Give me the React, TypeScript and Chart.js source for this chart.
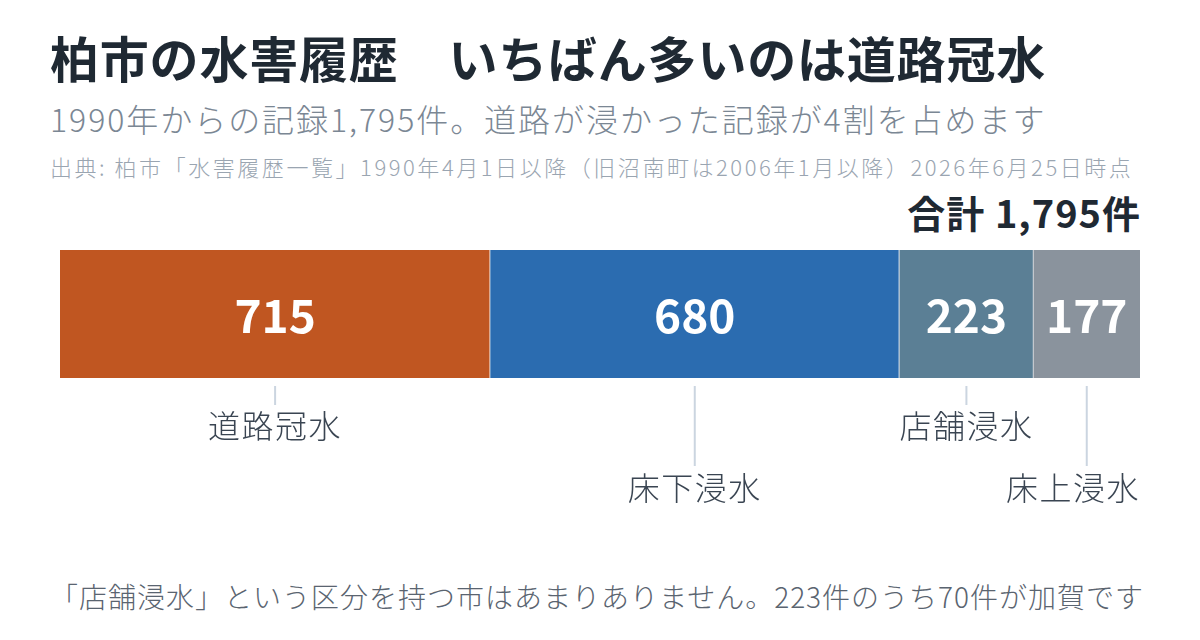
import { useEffect, useRef } from "react"
import { Chart, registerables } from "chart.js"

Chart.register(...registerables)

const categories = ["道路冠水", "床下浸水", "店舗浸水", "床上浸水"]
const counts = [715, 680, 223, 177]
const segmentColors = ["#C05621", "#2B6CB0", "#5B7F95", "#8A939D"]

const FONT = '"Noto Sans CJK JP", "Noto Sans", sans-serif'
const total = counts.reduce((a, b) => a + b, 0)

const labelPlugin = {
  id: "segmentLabels",
  afterDatasetsDraw(chart: any) {
    const ctx = chart.ctx
    const area = chart.chartArea
    chart.data.datasets.forEach((ds: any, i: number) => {
      const el = chart.getDatasetMeta(i).data[0]
      if (!el) return
      const { x, base, y, height } = el.getProps(["x", "base", "y", "height"], true)
      const cx = (x + base) / 2
      ctx.save()
      // value inside the segment
      ctx.fillStyle = "#ffffff"
      ctx.font = `bold 46px ${FONT}`
      ctx.textAlign = "center"
      ctx.textBaseline = "middle"
      ctx.fillText(String(ds.data[0]), cx, y + 2)

      // leader line and category name, alternating rows
      const bottom = y + height / 2
      const long = i % 2 === 1
      ctx.strokeStyle = "#CBD5E0"
      ctx.lineWidth = 2
      ctx.beginPath()
      ctx.moveTo(cx, bottom + 8)
      ctx.lineTo(cx, bottom + (long ? 88 : 27))
      ctx.stroke()

      ctx.font = `300 32px ${FONT}`
      ;(ctx as any).letterSpacing = "1.5px"
      ctx.fillStyle = "#3A4552"
      const w = ctx.measureText(ds.label).width
      const lx = Math.min(Math.max(cx, area.left + w / 2), area.right - w / 2)
      ctx.fillText(ds.label, lx, bottom + (long ? 110 : 48))
      ctx.restore()
    })
  },
}

function StackedBar() {
  const canvasRef = useRef<HTMLCanvasElement>(null)
  const chartRef = useRef<Chart | null>(null)

  useEffect(() => {
    if (!canvasRef.current) return
    if (chartRef.current) chartRef.current.destroy()

    chartRef.current = new Chart(canvasRef.current, {
      type: "bar",
      data: {
        labels: [""],
        datasets: categories.map((name, i) => ({
          label: name,
          data: [counts[i]],
          backgroundColor: segmentColors[i],
          borderColor: "rgba(255,255,255,0.55)",
          borderWidth: { left: 0, top: 0, bottom: 0, right: i < categories.length - 1 ? 1 : 0 },
          borderSkipped: false,
          barPercentage: 1,
          categoryPercentage: 1,
        })),
      },
      options: {
        indexAxis: "y",
        responsive: true,
        maintainAspectRatio: false,
        animation: false,
        layout: { padding: { left: 60, right: 60, top: 10, bottom: 162 } },
        plugins: {
          legend: { display: false },
          tooltip: { enabled: false },
        },
        scales: {
          x: { stacked: true, min: 0, max: total, display: false },
          y: { stacked: true, display: false },
        },
      },
      plugins: [labelPlugin],
    })

    return () => {
      if (chartRef.current) {
        chartRef.current.destroy()
        chartRef.current = null
      }
    }
  }, [])

  return (
    <div style={{ position: "absolute", left: 0, top: 240, width: 1200, height: 300 }}>
      <canvas ref={canvasRef} />
    </div>
  )
}

export default function App() {
  const text = (top: number, size: number, color: string, weight: number, spacing: number) => ({
    position: "absolute" as const,
    top,
    left: 50,
    fontSize: size,
    lineHeight: `${size}px`,
    color,
    fontWeight: weight,
    letterSpacing: spacing,
    whiteSpace: "nowrap" as const,
  })

  return (
    <div
      style={{
        position: "absolute",
        left: 0,
        top: 0,
        width: 1200,
        height: 640,
        background: "#ffffff",
        fontFamily: FONT,
        overflow: "hidden",
      }}
    >
      <div style={text(32, 49, "#1F2933", 700, 0.8)}>柏市の水害履歴　いちばん多いのは道路冠水</div>
      <div style={text(102, 32, "#7B8794", 300, 1.95)}>
        1990年からの記録1,795件。道路が浸かった記録が4割を占めます
      </div>
      <div style={text(155, 22, "#9AA5B1", 300, 2.55)}>
        出典: 柏市「水害履歴一覧」1990年4月1日以降（旧沼南町は2006年1月以降）2026年6月25日時点
      </div>
      <div style={{ ...text(193, 38, "#1F2933", 700, 1), left: "auto", right: 59 }}>
        合計 {total.toLocaleString("en-US")}件
      </div>
      <StackedBar />
      <div style={text(582, 28, "#5A6470", 300, 1)}>
        「店舗浸水」という区分を持つ市はあまりありません。223件のうち70件が加賀です
      </div>
    </div>
  )
}
